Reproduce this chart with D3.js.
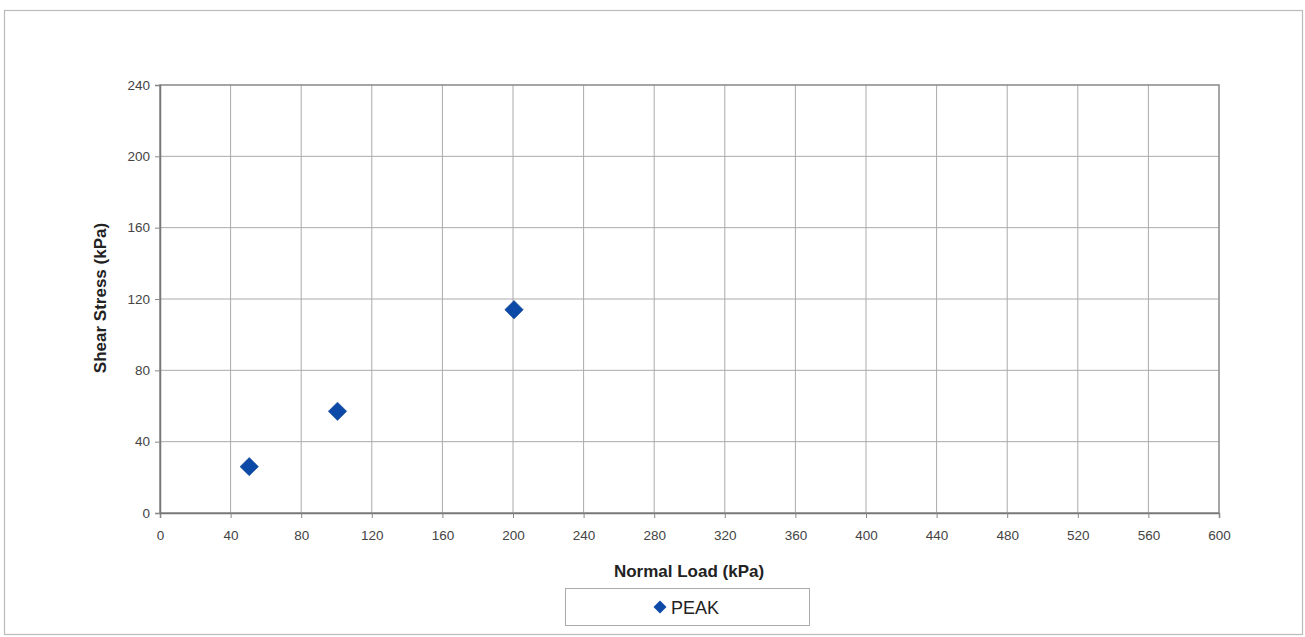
<!DOCTYPE html>
<html><head><meta charset="utf-8">
<script src="https://cdn.jsdelivr.net/npm/d3@7"></script>
<style>body{margin:0;background:#fff;}svg{display:block;}</style>
</head><body>
<svg id="c" width="1305" height="637"></svg>
<script>
const normalLoad = [50, 100, 200];
const shearStress = [26, 57, 114];
const xTicks = [0,40,80,120,160,200,240,280,320,360,400,440,480,520,560,600];
const yTicks = [0,40,80,120,160,200,240];
const seriesName = "PEAK";

const svg = d3.select("#c");
const m = {l:160, r:1219, t:85, b:513};
const x = d3.scaleLinear().domain([0,600]).range([m.l, m.r]);
const y = d3.scaleLinear().domain([0,240]).range([m.b, m.t]);

svg.append("rect").attr("x",4.5).attr("y",10.5).attr("width",1298).attr("height",624)
  .attr("fill","#fff").attr("stroke","#bbb").attr("stroke-width",1.2);

const g = svg.append("g");
g.selectAll(".vg").data(xTicks.slice(1,-1)).enter().append("line")
  .attr("x1",d=>x(d)).attr("x2",d=>x(d)).attr("y1",m.t).attr("y2",m.b)
  .attr("stroke","#aaa").attr("stroke-width",1);
g.selectAll(".hg").data(yTicks.slice(1,-1)).enter().append("line")
  .attr("y1",d=>y(d)).attr("y2",d=>y(d)).attr("x1",m.l).attr("x2",m.r)
  .attr("stroke","#aaa").attr("stroke-width",1);
g.append("rect").attr("x",m.l).attr("y",m.t).attr("width",m.r-m.l).attr("height",m.b-m.t)
  .attr("fill","none").attr("stroke","#888").attr("stroke-width",1.5);

const xAxis = d3.axisBottom(x).tickValues(xTicks).tickSize(5).tickPadding(12);
const ax = svg.append("g").attr("transform",`translate(0,${m.b})`).call(xAxis);
ax.select(".domain").attr("stroke","#777").attr("stroke-width",1.5);
ax.selectAll(".tick line").attr("stroke","#888");
ax.selectAll("text").attr("fill","#444").style("font-family","Liberation Sans, Arial").style("font-size","13.5px");

const yAxis = d3.axisLeft(y).tickValues(yTicks).tickSize(5).tickPadding(5);
const ay = svg.append("g").attr("transform",`translate(${m.l},0)`).call(yAxis);
ay.select(".domain").attr("stroke","#777").attr("stroke-width",1.5);
ay.selectAll(".tick line").attr("stroke","#888");
ay.selectAll("text").attr("fill","#444").style("font-family","Liberation Sans, Arial").style("font-size","13.5px");

const pts = normalLoad.map((v,i)=>({x:v,y:shearStress[i]}));
svg.selectAll(".pt").data(pts).enter().append("path")
  .attr("d", d3.symbol().type(d3.symbolSquare).size(170))
  .attr("transform",d=>`translate(${x(d.x)+1},${y(d.y)}) rotate(45)`)
  .attr("fill","#0d4aa8").attr("stroke","#0a3c8c").attr("stroke-width",0.5);

svg.append("text").attr("x",689).attr("y",577).attr("text-anchor","middle")
  .style("font-family","Liberation Sans, Arial").style("font-size","17px").style("font-weight","bold")
  .attr("fill","#222").text("Normal Load (kPa)");
svg.append("text").attr("transform","translate(106,298) rotate(-90)").attr("text-anchor","middle")
  .style("font-family","Liberation Sans, Arial").style("font-size","17px").style("font-weight","bold")
  .attr("fill","#222").text("Shear Stress (kPa)");

svg.append("rect").attr("x",565.5).attr("y",588.5).attr("width",244).attr("height",37)
  .attr("fill","#fff").attr("stroke","#aaa").attr("stroke-width",1);
svg.append("path").attr("d", d3.symbol().type(d3.symbolSquare).size(85))
  .attr("transform","translate(660,607) rotate(45)").attr("fill","#0d4aa8");
svg.append("text").attr("x",671).attr("y",614).style("font-family","Liberation Sans, Arial")
  .style("font-size","18px").attr("fill","#222").text(seriesName);
</script>
</body></html>
